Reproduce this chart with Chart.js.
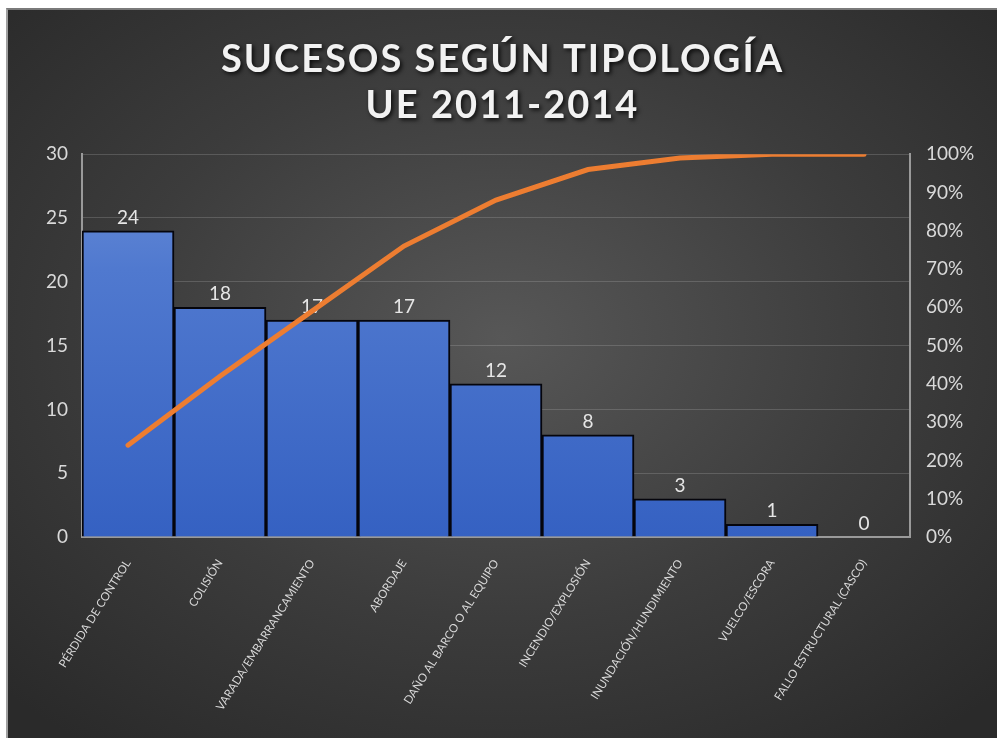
<!DOCTYPE html>
<html>
<head>
<meta charset="utf-8">
<script src="https://cdn.jsdelivr.net/npm/chart.js@4/dist/chart.umd.min.js"></script>
<style>
    body { margin: 0; background: #ffffff; }
    #frame {
        position: absolute;
        left: 6px;
        top: 8px;
        width: 989px;
        height: 728px;
        border-top: 2px solid #7a7a7a;
        border-left: 2px solid #a0a0a0;
        background: radial-gradient(ellipse 70% 70% at 50% 45%, #575757 0%, #3c3c3c 55%, #2a2a2a 100%);
    }
    #chart { display: block; }
</style>
</head>
<body>
<div id="frame"><canvas id="chart"></canvas></div>
<script>
const categories = [
    'PÉRDIDA DE CONTROL',
    'COLISIÓN',
    'VARADA/EMBARRANCAMIENTO',
    'ABORDAJE',
    'DAÑO AL BARCO O AL EQUIPO',
    'INCENDIO/EXPLOSIÓN',
    'INUNDACIÓN/HUNDIMIENTO',
    'VUELCO/ESCORA',
    'FALLO ESTRUCTURAL (CASCO)'
];
const sucesos = [24, 18, 17, 17, 12, 8, 3, 1, 0];
const acumulado = [24, 42, 59, 76, 88, 96, 99, 100, 100];
const leftTicks = [0, 5, 10, 15, 20, 25, 30];
const rightTicks = [0, 10, 20, 30, 40, 50, 60, 70, 80, 90, 100];
const titleLines = ['SUCESOS SEGÚN TIPOLOGÍA', 'UE 2011-2014'];

Chart.defaults.font.family = 'Lato, "Open Sans", sans-serif';
Chart.defaults.color = '#d9d9d9';

// value labels over each bar, drawn before the line so the line covers them
const barLabels = {
    id: 'barLabels',
    afterDatasetDraw(chart, args) {
        if (chart.data.datasets[args.index].type !== 'bar') return;
        const ctx = chart.ctx;
        ctx.save();
        ctx.font = '19px Lato, "Open Sans", sans-serif';
        ctx.fillStyle = '#e6e6e6';
        ctx.textAlign = 'center';
        ctx.textBaseline = 'middle';
        args.meta.data.forEach((bar, i) => {
            ctx.fillText(String(sucesos[i]), bar.x, bar.y - 13);
        });
        ctx.restore();
    }
};

// spaced, shadowed title (only the title block, not the axes)
const titleStyle = {
    id: 'titleStyle',
    afterUpdate(chart) {
        const block = chart.titleBlock;
        if (!block || block._styled) return;
        const draw = block.draw;
        block.draw = function () {
            const c = chart.ctx;
            c.save();
            c.letterSpacing = '2px';
            c.shadowColor = 'rgba(0,0,0,0.8)';
            c.shadowBlur = 4;
            c.shadowOffsetX = 2;
            c.shadowOffsetY = 2;
            draw.apply(this, arguments);
            c.restore();
        };
        block._styled = true;
    }
};

function barGradient(context) {
    const area = context.chart.chartArea;
    if (!area) return '#4472c4';
    const g = context.chart.ctx.createLinearGradient(0, area.top, 0, area.bottom);
    g.addColorStop(0, '#6b8fd9');
    g.addColorStop(0.3, '#5079cf');
    g.addColorStop(1, '#3561c2');
    return g;
}

const ctx = document.getElementById('chart').getContext('2d');
new Chart(ctx, {
    data: {
        labels: categories,
        datasets: [
            {
                type: 'line',
                data: acumulado,
                yAxisID: 'y1',
                borderColor: '#ed7d31',
                borderWidth: 5,
                pointRadius: 0,
                tension: 0,
                borderCapStyle: 'round',
                order: 0
            },
            {
                type: 'bar',
                data: sucesos,
                yAxisID: 'y',
                backgroundColor: barGradient,
                borderColor: '#05050c',
                borderWidth: 2,
                barPercentage: 1,
                categoryPercentage: 1,
                order: 1
            }
        ]
    },
    options: {
        responsive: true,
        maintainAspectRatio: false,
        animation: false,
        layout: { padding: 0 },
        plugins: {
            legend: { display: false },
            tooltip: { enabled: false },
            title: {
                display: true,
                text: titleLines,
                color: '#f2f2f2',
                font: { size: 38, weight: 'bold' },
                lineHeight: 1.24,
                padding: { top: 27, bottom: 26 }
            }
        },
        scales: {
            x: {
                grid: { display: false },
                border: { color: '#9a9a9a', width: 2 },
                ticks: {
                    color: '#d9d9d9',
                    font: { size: 11.5 },
                    maxRotation: 58,
                    minRotation: 58,
                    padding: 12,
                    autoSkip: false
                },
                afterFit: scale => { scale.height = 201; }
            },
            y: {
                position: 'left',
                min: 0,
                max: 30,
                afterBuildTicks: scale => { scale.ticks = leftTicks.map(v => ({ value: v })); },
                grid: { color: 'rgba(200,200,200,0.22)', drawTicks: false },
                border: { color: '#9a9a9a', width: 2 },
                ticks: { color: '#d9d9d9', font: { size: 19 }, padding: 14 },
                afterFit: scale => { scale.width = 74; }
            },
            y1: {
                position: 'right',
                min: 0,
                max: 100,
                afterBuildTicks: scale => { scale.ticks = rightTicks.map(v => ({ value: v })); },
                grid: { display: false, drawTicks: false },
                border: { color: '#9a9a9a', width: 2 },
                ticks: { color: '#d9d9d9', font: { size: 19 }, padding: 16, callback: v => v + '%' },
                afterFit: scale => { scale.width = 87; }
            }
        }
    },
    plugins: [titleStyle, barLabels]
});
</script>
</body>
</html>
